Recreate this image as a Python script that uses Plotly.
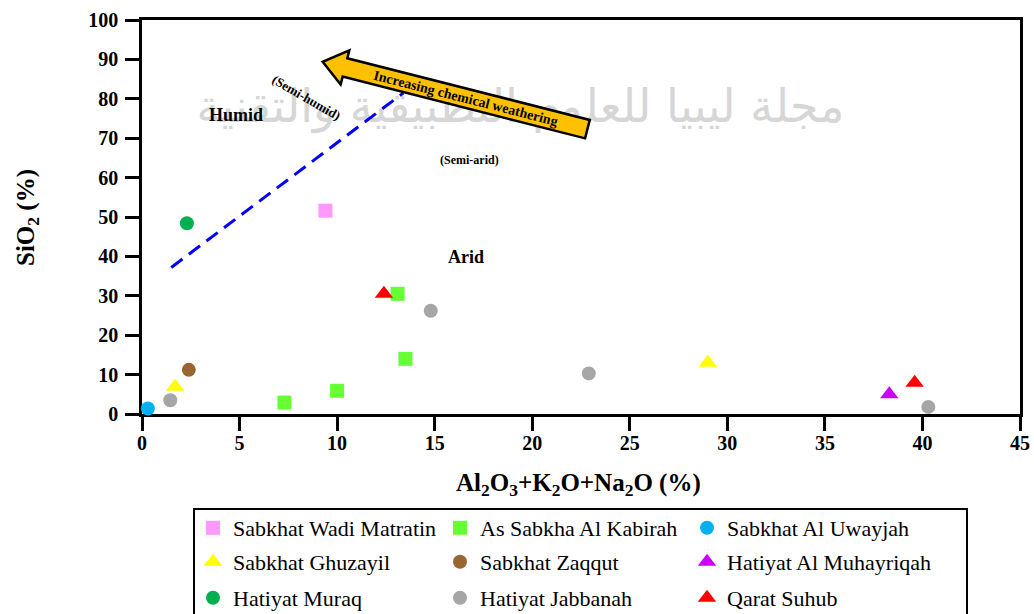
import math
import plotly.graph_objects as go

# ---- sample sites -------------------------------------------------------
site_names = [
    "Sabkhat Wadi Matratin", "As Sabkha Al Kabirah", "Sabkhat Al Uwayjah",
    "Sabkhat Ghuzayil", "Sabkhat Zaqqut", "Hatiyat Al Muhayriqah",
    "Hatiyat Muraq", "Hatiyat Jabbanah", "Qarat Suhub",
]
site_colors = [
    "#FF99FF", "#66FF33", "#00B0F0",
    "#FFFF00", "#996633", "#CC00FF",
    "#00B050", "#A6A6A6", "#FF0000",
]
site_symbols = [
    "square", "square", "circle",
    "triangle-up", "circle", "triangle-up",
    "circle", "circle", "triangle-up",
]

# Al2O3 + K2O + Na2O (%) per site
oxides_sum = [
    [9.4],
    [13.1, 13.5, 10.0, 7.3],
    [0.3],
    [1.7, 29.0],
    [2.4],
    [38.3],
    [2.3],
    [1.45, 14.8, 22.9, 40.3],
    [12.4, 39.6],
]
# SiO2 (%) per site
sio2 = [
    [51.6],
    [30.5, 14.0, 5.9, 2.9],
    [1.4],
    [6.9, 13.0],
    [11.2],
    [5.0],
    [48.4],
    [3.5, 26.2, 10.3, 1.8],
    [30.5, 7.9],
]

# humid / arid boundary (dashed)
boundary_x = [1.5, 13.4]
boundary_y = [37.2, 81.5]

x_ticks = [0, 5, 10, 15, 20, 25, 30, 35, 40, 45]
y_ticks = [0, 10, 20, 30, 40, 50, 60, 70, 80, 90, 100]

# ---- figure geometry ----------------------------------------------------
W, H = 1034, 614
M = dict(l=142, r=14, t=20, b=200, pad=0, autoexpand=False)
X_RANGE = (0, 45)
Y_RANGE = (0, 100)
PW = W - M["l"] - M["r"]
PH = H - M["t"] - M["b"]
KX = PW / (X_RANGE[1] - X_RANGE[0])   # px per x unit
KY = PH / (Y_RANGE[1] - Y_RANGE[0])   # px per y unit

SERIF = "Liberation Serif"

fig = go.Figure()

# faint journal watermark behind the data
fig.add_trace(go.Scatter(
    x=[19.4], y=[77.0], mode="text",
    text=["مجلة ليبيا للعلوم التطبيقية والتقنية"],
    textfont=dict(family="DejaVu Sans", size=46, color="#d6d6d6"),
    hoverinfo="skip", showlegend=False, cliponaxis=False,
))

# dashed boundary line
fig.add_trace(go.Scatter(
    x=boundary_x, y=boundary_y, mode="lines",
    line=dict(color="#0000FF", width=3, dash="14px,8px"),
    hoverinfo="skip", showlegend=False,
))

legend_ids = ["legend", "legend", "legend", "legend2", "legend2", "legend2",
              "legend3", "legend3", "legend3"]
marker_sizes = {"square": 14, "circle": 14, "triangle-up": 16}

for name, col, sym, xs, ys, lg in zip(site_names, site_colors, site_symbols,
                                      oxides_sum, sio2, legend_ids):
    fig.add_trace(go.Scatter(
        x=xs, y=ys, mode="markers", name=name, legend=lg,
        marker=dict(color=col, symbol=sym, size=marker_sizes[sym],
                    line=dict(width=0)),
        cliponaxis=False,
    ))

# ---- weathering arrow ---------------------------------------------------
arrow_tip = (9.26, 89.4)
arrow_tail = (22.83, 72.3)
HEAD_LEN, HEAD_HALF, BODY_HALF = 23, 17.6, 9.5


def to_px(p):
    return (p[0] * KX, -p[1] * KY)


def to_data(q):
    return (q[0] / KX, -q[1] / KY)


tp, tl = to_px(arrow_tip), to_px(arrow_tail)
dx, dy = tl[0] - tp[0], tl[1] - tp[1]
L = math.hypot(dx, dy)
ux, uy = dx / L, dy / L
nx, ny = -uy, ux
base = (tp[0] + ux * HEAD_LEN, tp[1] + uy * HEAD_LEN)


def off(p, s):
    return (p[0] + nx * s, p[1] + ny * s)


pts_px = [tp, off(base, HEAD_HALF), off(base, BODY_HALF), off(tl, BODY_HALF),
          off(tl, -BODY_HALF), off(base, -BODY_HALF), off(base, -HEAD_HALF)]
pts = [to_data(q) for q in pts_px]
path = "M " + " L ".join(f"{x:.4f},{y:.4f}" for x, y in pts) + " Z"
fig.add_shape(type="path", path=path, xref="x", yref="y", layer="above",
              fillcolor="#FFC000", line=dict(color="black", width=2.5))

arrow_angle = math.degrees(math.atan2(uy, ux))
mid = to_data(((base[0] + tl[0]) / 2, (base[1] + tl[1]) / 2))
fig.add_annotation(x=mid[0], y=mid[1], xref="x", yref="y", showarrow=False,
                   text="Increasing chemical weathering", textangle=arrow_angle,
                   font=dict(family=SERIF, size=14, color="black", weight="bold"))

# ---- region labels ------------------------------------------------------
region_text = ["Humid", "Arid", "(Semi-arid)", "(Semi-humid)"]
region_x = [4.8, 16.6, 16.76, 8.41]
region_y = [76.0, 39.8, 64.5, 80.3]
region_size = [18, 18, 12, 13]
region_angle = [0, 0, 0, 30]
for t, x, y, s, a in zip(region_text, region_x, region_y, region_size, region_angle):
    fig.add_annotation(x=x, y=y, xref="x", yref="y", showarrow=False, text=t,
                       textangle=a, xanchor="center", yanchor="middle",
                       font=dict(family=SERIF, size=s, color="black", weight="bold"))

# ---- axis titles --------------------------------------------------------
fig.add_annotation(x=-0.131, y=0.5, xref="paper", yref="paper", showarrow=False,
                   xanchor="center", yanchor="middle",
                   text="SiO<sub>2</sub> (%)", textangle=-90,
                   font=dict(family=SERIF, size=25, color="black", weight="bold"))
fig.add_annotation(x=0.497, y=-0.178, xref="paper", yref="paper", showarrow=False,
                   xanchor="center", yanchor="middle",
                   text="Al<sub>2</sub>O<sub>3</sub>+K<sub>2</sub>O+Na<sub>2</sub>O (%)",
                   font=dict(family=SERIF, size=25, color="black", weight="bold"))

# ---- legend frame -------------------------------------------------------
fig.add_shape(type="rect", xref="paper", yref="paper",
              x0=(194 - M["l"]) / PW, x1=(967 - M["l"]) / PW,
              y0=(M["t"] + PH - 509) / PH, y1=(M["t"] + PH - 625) / PH,
              line=dict(color="black", width=2), fillcolor="rgba(0,0,0,0)",
              layer="above")

axis_common = dict(
    showgrid=False, zeroline=False, showline=True, linecolor="black",
    linewidth=2.5, mirror=True, ticks="outside", ticklen=14, tickwidth=2.5,
    tickcolor="black", layer="below traces",
    tickfont=dict(family=SERIF, size=20, color="black", weight="bold"),
)

legend_common = dict(
    orientation="h", xanchor="left", yanchor="middle",
    x=(193 - M["l"]) / PW,
    font=dict(family=SERIF, size=22, color="black"),
    bgcolor="rgba(0,0,0,0)", borderwidth=0,
    entrywidth=202, entrywidthmode="pixels", itemclick=False,
)
row_px = [528, 562, 598]

fig.update_layout(
    width=W, height=H, margin=M,
    paper_bgcolor="white", plot_bgcolor="white",
    xaxis=dict(range=list(X_RANGE), tickvals=x_ticks, ticklabelstandoff=-5,
               **axis_common),
    yaxis=dict(range=list(Y_RANGE), tickvals=y_ticks, ticklabelstandoff=3,
               **axis_common),
    legend=dict(y=(M["t"] + PH - row_px[0]) / PH, **legend_common),
    legend2=dict(y=(M["t"] + PH - row_px[1]) / PH, **legend_common),
    legend3=dict(y=(M["t"] + PH - row_px[2]) / PH, **legend_common),
    showlegend=True,
)

fig.write_html("out.html")
